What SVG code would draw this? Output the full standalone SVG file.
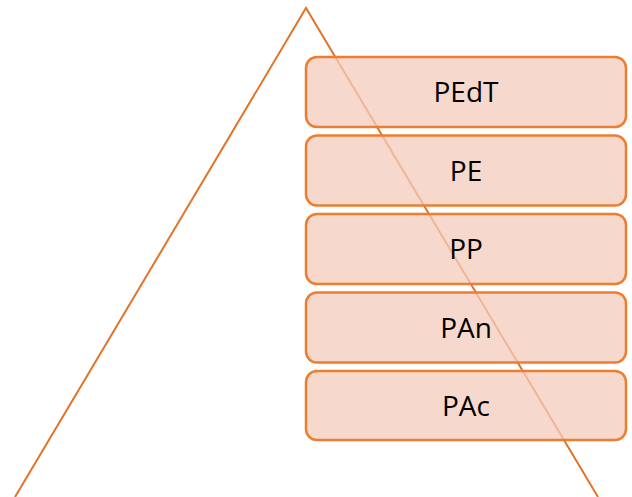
<svg xmlns="http://www.w3.org/2000/svg" width="632" height="497" viewBox="0 0 632 497">
<style>
.tri{fill:none;stroke:#E2742A;stroke-width:2}
.box{fill:#F4CBBB;fill-opacity:0.75;stroke:#ED7D31;stroke-width:2.5}
.lbl{font-family:"Open Sans","Noto Sans",sans-serif;font-size:28px;fill:#000;text-anchor:middle}
</style>
<rect width="632" height="497" fill="#fff"/>
<g id="triangle"><path class="tri" d="M15,497 L306,8 L598,497"/></g>
<g id="n1"><rect class="box" x="306" y="57" width="320" height="70" rx="11"/><text class="lbl" x="466" y="102">PEdT</text></g>
<g id="n2"><rect class="box" x="306" y="135.5" width="320" height="70" rx="11"/><text class="lbl" x="466" y="180.5">PE</text></g>
<g id="n3"><rect class="box" x="306" y="214" width="320" height="70" rx="11"/><text class="lbl" x="466" y="259">PP</text></g>
<g id="n4"><rect class="box" x="306" y="292.5" width="320" height="70" rx="11"/><text class="lbl" x="466" y="337.5">PAn</text></g>
<g id="n5"><rect class="box" x="306" y="371" width="320" height="69" rx="11"/><text class="lbl" x="466" y="416">PAc</text></g>
<g id="connectors"></g>
</svg>
